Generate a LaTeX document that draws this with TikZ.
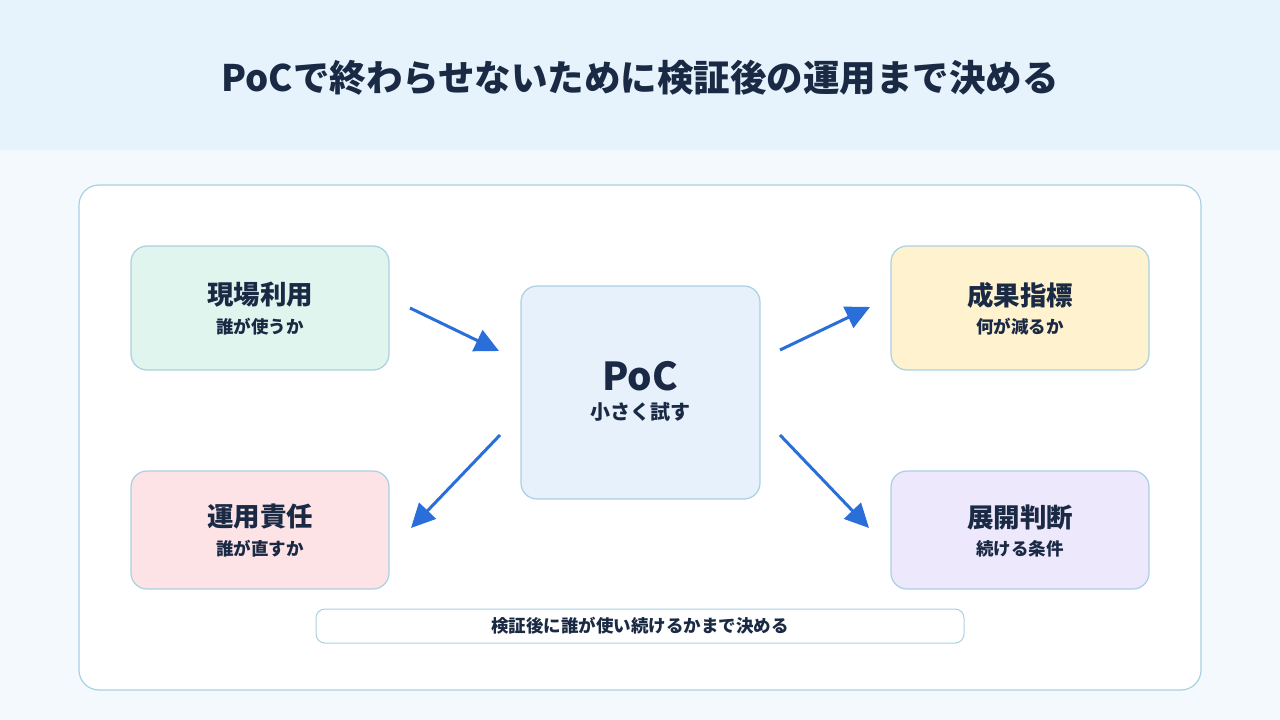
\documentclass[tikz,border=0pt]{standalone}
\usepackage{fontspec}
\setmainfont{Noto Sans CJK JP}
\usetikzlibrary{arrows.meta}
\definecolor{navy}{HTML}{1B2A44}
\definecolor{bord}{HTML}{A9D0E3}
\definecolor{arr}{HTML}{2A6FD9}
\begin{document}
\begin{tikzpicture}[x=1pt,y=-1pt,
 box/.style={draw=bord,line width=1.2pt,rounded corners=16pt,minimum width=258pt,align=center,text=navy,inner sep=0pt},
 t/.style={font=\bfseries\fontsize{26.5}{30}\selectfont},
 s/.style={font=\bfseries\fontsize{17.5}{20}\selectfont},
 ar/.style={draw=arr,line width=3pt,-{Triangle[length=24pt,width=23pt]}}]
\useasboundingbox (0,0) rectangle (1280,720);
\fill[fill={rgb,255:red,244;green,249;blue,253}] (0,0) rectangle (1280,720);
\fill[fill={rgb,255:red,230;green,243;blue,252}] (0,0) rectangle (1280,150);
\node[font=\bfseries\fontsize{36.5}{40}\selectfont,text=navy] (title) at (640,78) {PoCで終わらせないために検証後の運用まで決める};
\draw[draw=bord,fill=white,line width=1.2pt,rounded corners=20pt] (79,185) rectangle (1201,690);
\node[box,fill={rgb,255:red,224;green,245;blue,238},minimum height=124pt] (a) at (260,308) {};
\node[t,text=navy] at (260,295) {現場利用};\node[s,text=navy] at (260,327) {誰が使うか};
\node[box,fill={rgb,255:red,253;green,227;blue,230},minimum height=118pt] (b) at (260,530) {};
\node[t,text=navy] at (260,517) {運用責任};\node[s,text=navy] at (260,549) {誰が直すか};
\node[box,fill={rgb,255:red,254;green,242;blue,207},minimum height=124pt] (c) at (1020,308) {};
\node[t,text=navy] at (1020,295) {成果指標};\node[s,text=navy] at (1020,327) {何が減るか};
\node[box,fill={rgb,255:red,237;green,232;blue,252},minimum height=118pt] (d) at (1020,530) {};
\node[t,text=navy] at (1020,517) {展開判断};\node[s,text=navy] at (1020,549) {続ける条件};
\node[box,fill={rgb,255:red,230;green,241;blue,252},minimum width=239pt,minimum height=213pt] (p) at (640.5,392.5) {};
\node[font=\bfseries\fontsize{38.5}{42}\selectfont,text=navy] at (640,376) {PoC};
\node[font=\bfseries\fontsize{20}{24}\selectfont,text=navy] at (640,412) {小さく試す};
\node[draw=bord,fill=white,line width=1pt,rounded corners=9pt,minimum width=648pt,minimum height=34pt,inner sep=0pt,font=\bfseries\fontsize{17.5}{20}\selectfont,text=navy] (n) at (640,626) {検証後に誰が使い続けるかまで決める};
\coordinate (a1) at (410,308);\coordinate (a2) at (499,351);
\coordinate (b1) at (500,435);\coordinate (b2) at (411,528);
\coordinate (c1) at (780,350);\coordinate (c2) at (870,307);
\coordinate (d1) at (780,435);\coordinate (d2) at (869,528);
\draw[ar] (a1)--(a2);\draw[ar] (b1)--(b2);\draw[ar] (c1)--(c2);\draw[ar] (d1)--(d2);
\end{tikzpicture}
\end{document}
